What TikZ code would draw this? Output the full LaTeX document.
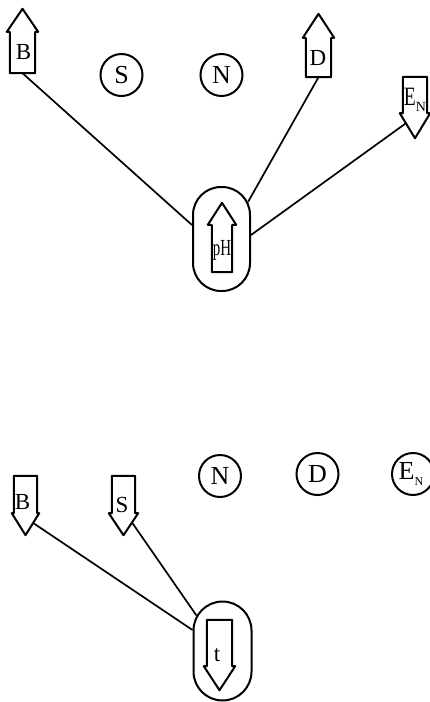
\documentclass[tikz,border=0pt]{standalone}
\usepackage{fontspec}
\usepackage{graphicx}
\setmainfont{Liberation Serif}
\usetikzlibrary{calc}
\tikzset{
  outline/.style={line width=2pt, line join=round},
  link/.style={line width=1.7pt},
  arrbody/.style={rectangle, inner sep=0pt},
  lbl/.style={inner sep=0pt, font=\fontsize{23}{23}\selectfont},
  circ/.style={circle, draw, line width=2pt, minimum size=42pt, inner sep=0pt, font=\fontsize{26}{26}\selectfont},
  capsule/.style={rectangle, draw, line width=2pt, inner sep=0pt},
}
\newcommand\myuparrow[3]{%
  \draw[outline] (#1.south west) -- (#1.north west) -- ++(-#2,0) -- ($(#1.north)+(0,-#3)$) -- ($(#1.north east)+(#2,0)$) -- (#1.north east) -- (#1.south east) -- cycle;}
\newcommand\mydownarrow[3]{%
  \draw[outline] (#1.north west) -- (#1.south west) -- ++(-#2,0) -- ($(#1.south)+(0,#3)$) -- ($(#1.south east)+(#2,0)$) -- (#1.south east) -- (#1.north east) -- cycle;}
\begin{document}
\begin{tikzpicture}[x=1pt,y=-1pt]
\useasboundingbox (0,0) rectangle (430,702);
% ---------- top ----------
\node[arrbody, minimum width=25pt, minimum height=41pt] (B1) at (22.5,52.5) {};
\myuparrow{B1}{3}{23}
\node[lbl] (B1t) at (23.5,52) {B};
\node[circ] (S1) at (121.5,75) {S};
\node[circ] (N1) at (221.5,75) {N};
\node[arrbody, minimum width=25pt, minimum height=39pt] (D1) at (318.5,57.5) {};
\myuparrow{D1}{3}{24}
\node[lbl] (D1t) at (318,58) {D};
\node[arrbody, minimum width=24pt, minimum height=36pt] (E1) at (415,95) {};
\mydownarrow{E1}{3}{25}
\node[lbl] (E1t) at (415,100) {\scalebox{0.85}[1.15]{E}\raisebox{-6pt}{\fontsize{14}{14}\selectfont N}};
\node[capsule, rounded corners=28pt, minimum width=57pt, minimum height=104pt] (pH) at (221.5,239) {};
\node[arrbody, minimum width=20pt, minimum height=47pt] (pHa) at (222,248.5) {};
\myuparrow{pHa}{4}{22}
\node[lbl] (pHt) at (222,250) {\scalebox{0.65}[1]{pH}};
\draw[link] (B1.south) -- ([yshift=14pt]pH.west);
\draw[link] (D1.south) -- ([shift={(-3pt,-16pt)}]pH.north east);
\draw[link] ([shift={(-9pt,-10pt)}]E1.south) -- ([yshift=4pt]pH.east);
% ---------- bottom ----------
\node[arrbody, minimum width=23pt, minimum height=37pt] (B2) at (25.5,494.5) {};
\mydownarrow{B2}{2}{22}
\node[lbl] (B2t) at (22.5,502) {B};
\node[arrbody, minimum width=23pt, minimum height=37pt] (S2) at (123.5,494.5) {};
\mydownarrow{S2}{3}{22}
\node[lbl] (S2t) at (122,505) {S};
\node[circ] (N2) at (220,476) {N};
\node[circ] (D2) at (317.5,474) {D};
\node[circ] (E2) at (413,474) {\hspace*{-4pt}E\raisebox{-6pt}{\fontsize{12}{12}\selectfont N}};
\node[capsule, rounded corners=29pt, minimum width=58pt, minimum height=99pt] (t) at (222.5,651) {};
\node[arrbody, minimum width=25pt, minimum height=46pt] (ta) at (219.5,643) {};
\mydownarrow{ta}{3}{24}
\node[lbl] (tt) at (217,655) {t};
\draw[link] ([shift={(8pt,-10pt)}]B2.south) -- ([yshift=21pt]t.west);
\draw[link] ([shift={(9pt,-10pt)}]S2.south) -- ([shift={(4pt,-15pt)}]t.north west);
\end{tikzpicture}
\end{document}
